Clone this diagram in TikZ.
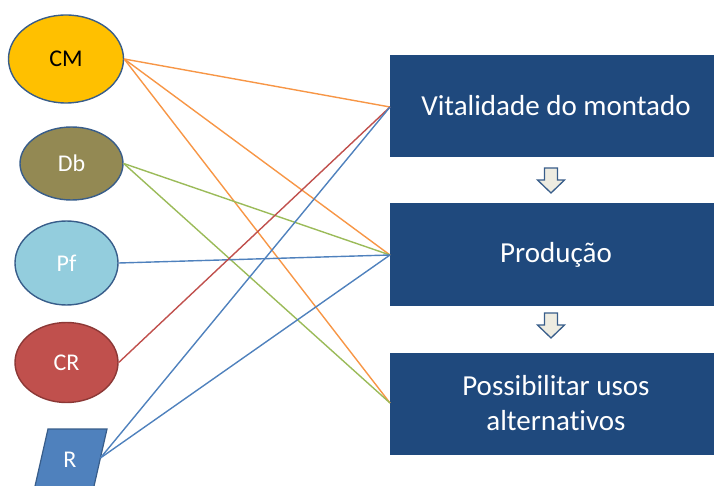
\documentclass[tikz,border=0pt]{standalone}
\usepackage{fontspec}
\setmainfont{Carlito}[Ligatures=NoCommon]
\usetikzlibrary{shapes.geometric}
\definecolor{cmfill}{HTML}{FFC000}
\definecolor{dbfill}{HTML}{938953}
\definecolor{pffill}{HTML}{93CDDD}
\definecolor{crfill}{HTML}{C0504D}
\definecolor{crdraw}{HTML}{8C3836}
\definecolor{rfill}{HTML}{4F81BD}
\definecolor{edgeblue}{HTML}{385D8A}
\definecolor{boxfill}{HTML}{1F497D}
\definecolor{arrfill}{HTML}{EEECE1}
\definecolor{lorange}{HTML}{F79646}
\definecolor{lgreen}{HTML}{9BBB59}
\definecolor{lblue}{HTML}{4F81BD}
\definecolor{lred}{HTML}{C0504D}
\tikzset{
  src/.style={ellipse, draw=edgeblue, line width=1.4pt, inner sep=0pt,
    font=\fontsize{24}{28}\selectfont, text=white},
  goal/.style={rectangle, fill=boxfill, draw=none, minimum width=332pt,
    minimum height=102pt, inner sep=0pt, text=white, align=center,
    font=\fontsize{29}{35}\selectfont},
  conn/.style={line width=1.4pt},
  flowarrow/.style={fill=arrfill, draw=edgeblue, line width=1.3pt, line join=miter}
}
\begin{document}
\begin{tikzpicture}[x=1pt,y=-1pt]
\useasboundingbox (0,0) rectangle (714,486);
\clip (0,0) rectangle (714,486);
% sources
\node[src, fill=cmfill, text=black, minimum width=115pt, minimum height=88pt] (CM) at (66,59) {CM};
\node[src, fill=dbfill, minimum width=103pt, minimum height=73pt] (Db) at (71.5,163.5) {Db};
\node[src, fill=pffill, minimum width=103pt, minimum height=84pt] (Pf) at (66.5,263) {Pf};
\node[src, fill=crfill, draw=crdraw, minimum width=103pt, minimum height=80pt] (CR) at (66.5,362.5) {CR};
% R parallelogram
\draw[fill=rfill, draw=edgeblue, line width=1.2pt] (48,429) -- (107,429) -- (92.9,491) -- (33.9,491) -- cycle;
\node[text=white, font=\fontsize{24}{28}\selectfont] (R) at (70,460) {R};
\coordinate (Rc) at (100.4,458);
% goals
\node[goal] (V) at (556,106) {Vitalidade do montado};
\node[goal] (P) at (556,254.5) {Produção};
\node[goal] (A) at (556,403.5) {Possibilitar usos\\alternativos};
% anchor points on box edges
\coordinate (Vl) at (390,107);
\coordinate (Pl) at (390,255);
\coordinate (Al) at (390,403);
% block arrows
\foreach \t in {168,313}{
  \draw[flowarrow] (544.5,\t) -- (557.5,\t) -- (557.5,\t+12) -- (564.5,\t+12)
    -- (551,\t+25) -- (537.5,\t+12) -- (544.5,\t+12) -- cycle;
}
% connectors
\draw[conn, lorange] (CM.east) -- (Vl);
\draw[conn, lorange] (CM.east) -- (Pl);
\draw[conn, lorange] (CM.east) -- (Al);
\draw[conn, lgreen] (Db.east) -- (Pl);
\draw[conn, lgreen] (Db.east) -- (Al);
\draw[conn, lblue] (Pf.east) -- (Pl);
\draw[conn, lred] (CR.east) -- (Vl);
\draw[conn, lblue] (Rc) -- (Vl);
\draw[conn, lblue] (Rc) -- (Pl);
\end{tikzpicture}
\end{document}
